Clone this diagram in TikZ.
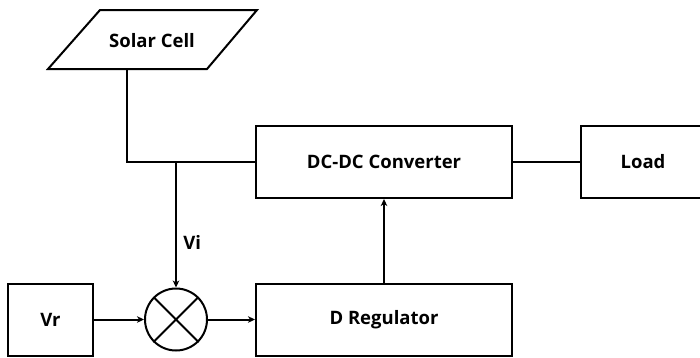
\documentclass[tikz,border=0pt]{standalone}
\usepackage{fontspec}
\setmainfont{Open Sans}
\usetikzlibrary{arrows.meta,shapes.geometric}
\begin{document}
\begin{tikzpicture}[x=1pt,y=-1pt,
  line width=2pt,
  lbl/.style={font=\bfseries\fontsize{18.5}{22}\selectfont},
  blk/.style={draw,lbl,minimum width=256pt,minimum height=72pt,inner sep=0pt},
  arr/.style={-{Stealth[length=7pt,width=6.5pt,inset=2pt]}}]
\useasboundingbox (0,0) rectangle (700,357);
\begin{scope}
\clip (0,0) rectangle (700,357);
% Solar cell input (parallelogram)
\draw (100,10) -- (257,10) -- (207,69) -- (48,69) -- cycle;
\node[lbl] (sc) at (152,41) {Solar Cell};
\coordinate (scb) at (127,69);
% blocks
\node[blk] (conv) at (384,162) {DC-DC Converter};
\node[blk] (reg) at (384,319.5) {D Regulator};
\node[draw,minimum width=125pt,minimum height=72pt,inner sep=0pt] (loadbox) at (643.5,162) {};
\node[lbl] (load) at (643,162) {Load};
\node[draw,lbl,minimum width=85pt,minimum height=72pt,inner sep=0pt] (vr) at (50.5,319.5) {Vr};
% summing junction
\node[draw,circle,minimum size=62pt,inner sep=0pt] (sum) at (176,319.5) {};
\draw (sum.north west) -- (sum.south east) (sum.north east) -- (sum.south west);
% connectors
\coordinate (jn) at (176,162);
\draw (scb) |- (conv.west);
\draw[arr] (jn) -- node[lbl,right,pos=0.64,xshift=3pt] {Vi} (sum.north);
\draw (conv.east) -- (loadbox.west);
\draw[arr] (vr.east) -- (sum.west);
\draw[arr] (sum.east) -- (reg.west);
\draw[arr] (reg.north) -- (conv.south);
\end{scope}
\end{tikzpicture}
\end{document}
